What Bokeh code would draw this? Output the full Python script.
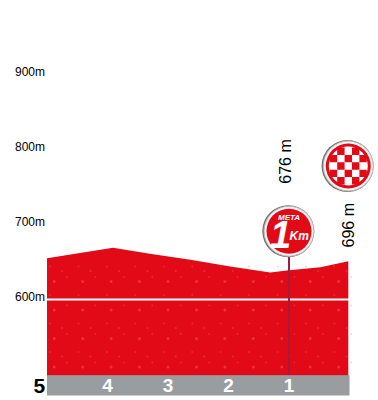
from bokeh.embed import file_html
from bokeh.resources import INLINE
from bokeh.plotting import figure
from bokeh.models import FixedTicker, Range1d
from bokeh.core.properties import value
import numpy as np

km = [5.0, 3.91, 3.3, 2.63, 1.97, 1.31, 1.0, 0.48, 0.02]
elev = [651, 665, 657, 649, 640, 632, 635, 639, 647]
base = 495
band_floor = 468
line_elev = 596
y_ticks = [600, 700, 800, 900]
km_labels = ["4", "3", "2", "1"]
km_marks = [4, 3, 2, 1]
meta_km = 1
finish_km = 0
alt_labels = ["676 m", "696 m"]

X0, PX = 349.0, 60.5
Y600, PY = 296.0, 0.75
p = figure(width=378, height=400, output_backend="svg", toolbar_location=None,
           x_range=Range1d(X0 / PX, (X0 - 378) / PX),
           y_range=Range1d(600 + (Y600 - 400) / PY, 600 + Y600 / PY),
           min_border_left=0, min_border_right=0, min_border_top=0, min_border_bottom=0,
           outline_line_color=None, background_fill_color="white", x_axis_type=None,
           margin=(0, 0, 0, 0))
p.grid.visible = False
ax = p.yaxis[0]
ax.fixed_location = 5
ax.ticker = FixedTicker(ticks=y_ticks)
ax.major_label_overrides = {t: f"{t}m" for t in y_ticks}
ax.major_label_text_font = "Liberation Sans"
ax.major_label_text_font_size = "12px"
ax.major_label_text_color = "black"
ax.axis_line_color = None
ax.major_tick_line_color = None
ax.minor_tick_line_color = None
ax.major_tick_out = 0
ax.major_tick_in = 0
ax.major_label_standoff = 2

p.varea(x=km, y1=[base] * len(km), y2=elev, fill_color="#e20a16")
p.line(x=[km[0], km[-1]], y=[base, base], line_color="#c40a14", line_width=1)
gx, gy = np.meshgrid(np.arange(5.0, 0, -0.47), np.arange(500, 640, 38))
for dx, dy, s, a in [(0.12, 6, 3, .45), (0.25, 20, 2, .35), (0.33, 12, 2, .3), (0.05, 26, 2, .3)]:
    p.scatter(gx.ravel() - dx, gy.ravel() + dy, size=s, color="#f7666c", alpha=a, line_color=None)
p.line(x=[5, finish_km], y=[line_elev, line_elev], line_color="white", line_width=2)
p.segment(x0=[meta_km], x1=[meta_km], y0=[base], y1=[690], line_color="#a01c3c", line_width=2)
p.varea(x=[5, finish_km], y1=[band_floor, band_floor], y2=[base, base], fill_color="#9a9d9f")

for x, y, lab in zip([meta_km + 0.05, finish_km + 0.01], [780, 695], alt_labels):
    p.text([x], [y], text=[lab], angle=np.pi / 2, text_align="center", text_baseline="middle",
           text_font=value("Liberation Sans"), text_font_size="16px", text_color="black")

p.text(km_marks, [481] * 4, text=km_labels, text_align="center", text_baseline="middle",
       text_font=value("Liberation Sans"), text_font_style="bold", text_font_size="19px", text_color="white")
p.text([5.03], [481], text=["5"], text_align="right", text_baseline="middle",
       text_font=value("Liberation Sans"), text_font_style="bold", text_font_size="21px", text_color="black")

# badges
for cx, cy in [(0.02, 774), (1, 687)]:
    p.scatter([cx + 0.012], [cy], size=52, color="#6f6f6f", line_color=None)
    p.scatter([cx], [cy], size=50, color="#f2f2f2", line_color="#b8b8b8", line_width=1)
    p.scatter([cx], [cy], size=45, color="#e20a16", line_color=None)
cells = [(-2, -1), (-2, 1), (-1, -2), (-1, 0), (-1, 2), (0, -1), (0, 1), (1, -2), (1, 0), (1, 2), (2, -1), (2, 1)]
p.scatter([0.02], [774], size=39, color="white", line_color=None)
S = 7.4
p.rect([0.02 + c[0] * S / PX for c in cells], [774 + c[1] * S / PY for c in cells],
       width=S, height=S, width_units="screen", height_units="screen", color="#e20a16", line_color=None)
p.text([1.14], [683], text=["1"], text_align="center", text_baseline="middle",
       text_font=value("Liberation Sans"), text_font_style="bold italic", text_font_size="38px", text_color="white")
p.text([1], [705], text=["META"], text_align="center", text_baseline="middle",
       text_font=value("Liberation Sans"), text_font_style="bold italic", text_font_size="8px", text_color="white")
p.text([0.83], [681], text=["Km"], text_align="center", text_baseline="middle",
       text_font=value("Liberation Sans"), text_font_style="bold italic", text_font_size="12px", text_color="white")

open("out.html", "w").write(file_html(p, INLINE))
